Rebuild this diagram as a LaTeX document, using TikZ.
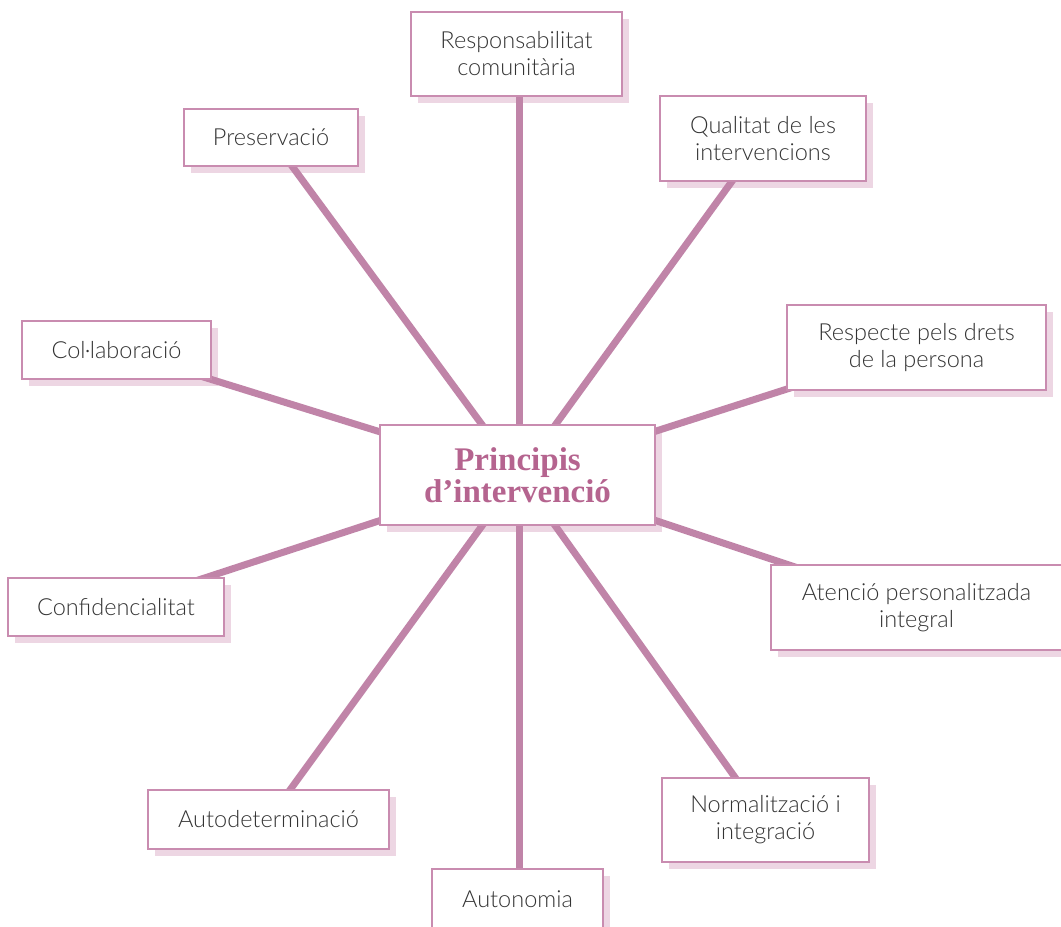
\documentclass[tikz,border=0pt]{standalone}
\usepackage{fontspec}
\IfFontExistsTF{Lato Light}{\setmainfont{Lato Light}}{\setmainfont{Lato}}
\newfontfamily\titlefont{Liberation Serif}
\definecolor{linec}{HTML}{C084A8}
\definecolor{borderc}{HTML}{C98CB0}
\definecolor{shadowc}{HTML}{EDD6E3}
\definecolor{titlec}{HTML}{B5648F}
\definecolor{textc}{HTML}{333333}
\pgfdeclarelayer{shadowl}
\pgfdeclarelayer{linel}
\pgfsetlayers{shadowl,linel,main}
\tikzset{
  box/.style={draw=borderc, line width=1.2pt, fill=white, inner sep=0pt, outer sep=0pt,
    align=center, text=textc, font=\fontsize{23.5}{27}\selectfont},
  titlebox/.style={font=\titlefont\bfseries\fontsize{33}{32}\selectfont, text=titlec},
  spoke/.style={draw=linec, line width=7pt},
  shadowbox/.style={fill=shadowc}
}
\newcommand\bx[7][]{%
  \node[box, #1, minimum width={#5-#3}, minimum height={#6-#4}] (#2) at ({(#3+#5)/2},{(#4+#6)/2}) {#7};
  \begin{pgfonlayer}{shadowl}
    \fill[shadowbox] ([shift={(7,7)}]#2.north west) rectangle ([shift={(7,7)}]#2.south east);
  \end{pgfonlayer}}
\begin{document}
\begin{tikzpicture}[x=1pt,y=-1pt]
\useasboundingbox (0,0) rectangle (1061,927);
\clip (0,0) rectangle (1061,927);
\bx[titlebox]{c}{380}{425}{655}{525}{Principis\\d’intervenció}
\coordinate (o) at (519,475);
\bx{resp}{411}{12}{622}{96}{Responsabilitat\\comunitària}
\bx{pres}{184}{109}{358}{166}{Preservació}
\bx{qual}{660}{96}{866}{181}{Qualitat de les\\intervencions}
\bx{colab}{22}{321}{211}{379}{Col·laboració}
\bx{drets}{787}{305}{1046}{390}{Respecte pels drets\\de la persona}
\bx{conf}{8}{578}{224}{636}{Confidencialitat}
\bx{aten}{771}{565}{1062}{650}{Atenció personalitzada\\integral}
\bx{norm}{662}{778}{869}{862}{Normalització i\\integració}
\bx{autod}{148}{790}{389}{849}{Autodeterminació}
\bx{auton}{432}{869}{603}{929}{Autonomia}
\begin{pgfonlayer}{linel}
\foreach \n in {pres,qual,colab,drets,conf,aten,norm,autod}
  \draw[spoke] (o) -- (\n.center);
\draw[spoke] (o) -- (o |- resp.center);
\draw[spoke] (o) -- (o |- auton.center);
\end{pgfonlayer}
\end{tikzpicture}
\end{document}
